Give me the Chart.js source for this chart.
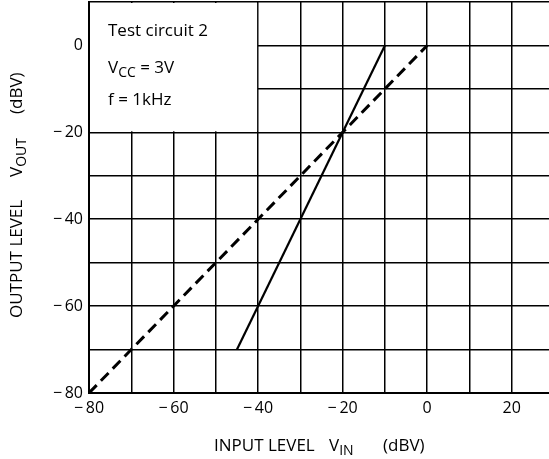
<!DOCTYPE html>
<html>
<head>
<meta charset="utf-8">
<script src="https://cdn.jsdelivr.net/npm/chart.js@4"></script>
<style>
    html, body { margin: 0; padding: 0; background: #fff; overflow: hidden; }
    #chart_io { display: block; }
</style>
</head>
<body>
<canvas id="chart_io" width="556" height="459"></canvas>
<script>
/* ----------------------------------------------------------------------------
                                     DATA
---------------------------------------------------------------------------- */
var xRange = [-80, 30];
var yRange = [-80, 10];
var gridStep = 10;
var labelStep = 20;

// solid line
var solidX = [-45, -10];
var solidY = [-70, 0];
// dashed line
var dashedX = [-80, 0];
var dashedY = [-80, 0];

var boxCorners = [-80, -40, 10, -20];   // x from, x to, y from, y to
var boxLines = ['Test circuit 2', ['V', 'CC', ' = 3V'], 'f = 1kHz'];

var FONT = '"Open Sans", "DejaVu Sans", sans-serif';

function toPoints(xs, ys) {
    return xs.map(function (x, i) { return { x: x, y: ys[i] }; });
}

function tickLabel(v) {
    if (v % labelStep !== 0) return '';
    return v < 0 ? '\u2212\u2009' + (-v) : String(v);
}

/* ----------------------------------------------------------------------------
                                   PLUGINS
---------------------------------------------------------------------------- */

// draws "base" + subscript + rest, starting at x, returns end x
function drawSub(ctx, parts, x, y, size) {
    ctx.font = size + 'px ' + FONT;
    ctx.fillText(parts[0], x, y);
    x += ctx.measureText(parts[0]).width;
    ctx.font = Math.round(size * 0.8) + 'px ' + FONT;
    ctx.fillText(parts[1], x, y + size * 0.32);
    x += ctx.measureText(parts[1]).width;
    if (parts[2]) {
        ctx.font = size + 'px ' + FONT;
        ctx.fillText(parts[2], x, y);
        x += ctx.measureText(parts[2]).width;
    }
    return x;
}

const boxPlugin = {
    id: 'infoBox',
    beforeDatasetsDraw: function (chart) {
        var ctx = chart.ctx, sx = chart.scales.x, sy = chart.scales.y;
        var x0 = sx.getPixelForValue(boxCorners[0]), x1 = sx.getPixelForValue(boxCorners[1]);
        var y0 = sy.getPixelForValue(boxCorners[2]), y1 = sy.getPixelForValue(boxCorners[3]);
        ctx.save();
        ctx.fillStyle = '#fff';
        ctx.fillRect(x0 + 1, y0 + 1, x1 - x0 - 2, y1 - y0 - 2);
        ctx.fillStyle = '#000';
        ctx.textBaseline = 'middle';
        var tx = x0 + 19;
        ctx.font = '17px ' + FONT;
        ctx.fillText(boxLines[0], tx, 31);
        drawSub(ctx, boxLines[1], tx, 68, 17);
        ctx.font = '17px ' + FONT;
        ctx.fillText(boxLines[2], tx, 100);
        ctx.restore();
    }
};

const titlePlugin = {
    id: 'axisTitles',
    afterDraw: function (chart) {
        var ctx = chart.ctx;
        ctx.save();
        ctx.fillStyle = '#000';
        ctx.textBaseline = 'middle';

        // x title
        ctx.font = '17px ' + FONT;
        ctx.fillText('INPUT LEVEL', 214, 446);
        drawSub(ctx, ['V', 'IN'], 329, 446, 17);
        ctx.font = '17px ' + FONT;
        ctx.fillText('(dBV)', 383, 446);

        // y title (rotated)
        ctx.translate(17, 0);
        ctx.rotate(-Math.PI / 2);
        ctx.font = '17px ' + FONT;
        ctx.fillText('OUTPUT LEVEL', -318, 0);
        drawSub(ctx, ['V', 'OUT'], -177, 0, 17);
        ctx.font = '17px ' + FONT;
        ctx.fillText('(dBV)', -114, 0);
        ctx.restore();
    }
};

/* ----------------------------------------------------------------------------
                                    CHART
---------------------------------------------------------------------------- */
const ctx_io = document.getElementById('chart_io').getContext('2d');

const chartIO = new Chart(ctx_io, {
    type: 'line',
    data: {
        datasets: [{
            data: toPoints(solidX, solidY),
            borderColor: '#000',
            borderWidth: 2.2,
            pointRadius: 0,
            fill: false
        }, {
            data: toPoints(dashedX, dashedY),
            borderColor: '#000',
            borderWidth: 3,
            borderDash: [11, 6],
            pointRadius: 0,
            fill: false
        }]
    },
    options: {
        responsive: false,
        animation: false,
        layout: {
            padding: { left: 0, top: 2, right: 2, bottom: 0 }
        },
        plugins: {
            legend: { display: false },
            tooltip: { enabled: false }
        },
        scales: {
            x: {
                type: 'linear',
                min: xRange[0],
                max: xRange[1],
                afterFit: function (scale) {
                    scale.height = 66;
                    scale.paddingLeft = 0;
                    scale.paddingRight = 0;
                },
                grid: {
                    color: '#000',
                    lineWidth: 1.5,
                    drawTicks: false
                },
                border: { color: '#000', width: 2 },
                ticks: {
                    stepSize: gridStep,
                    autoSkip: false,
                    maxRotation: 0,
                    padding: 6,
                    color: '#000',
                    font: { family: FONT, size: 16 },
                    callback: tickLabel
                }
            },
            y: {
                type: 'linear',
                min: yRange[0],
                max: yRange[1],
                afterFit: function (scale) {
                    scale.width = 89;
                    scale.paddingTop = 0;
                    scale.paddingBottom = 0;
                },
                grid: {
                    color: '#000',
                    lineWidth: 1.5,
                    drawTicks: false
                },
                border: { color: '#000', width: 2 },
                ticks: {
                    stepSize: gridStep,
                    autoSkip: false,
                    padding: 6,
                    color: '#000',
                    font: { family: FONT, size: 16 },
                    callback: tickLabel
                }
            }
        }
    },
    plugins: [boxPlugin, titlePlugin]
});
</script>
</body>
</html>
